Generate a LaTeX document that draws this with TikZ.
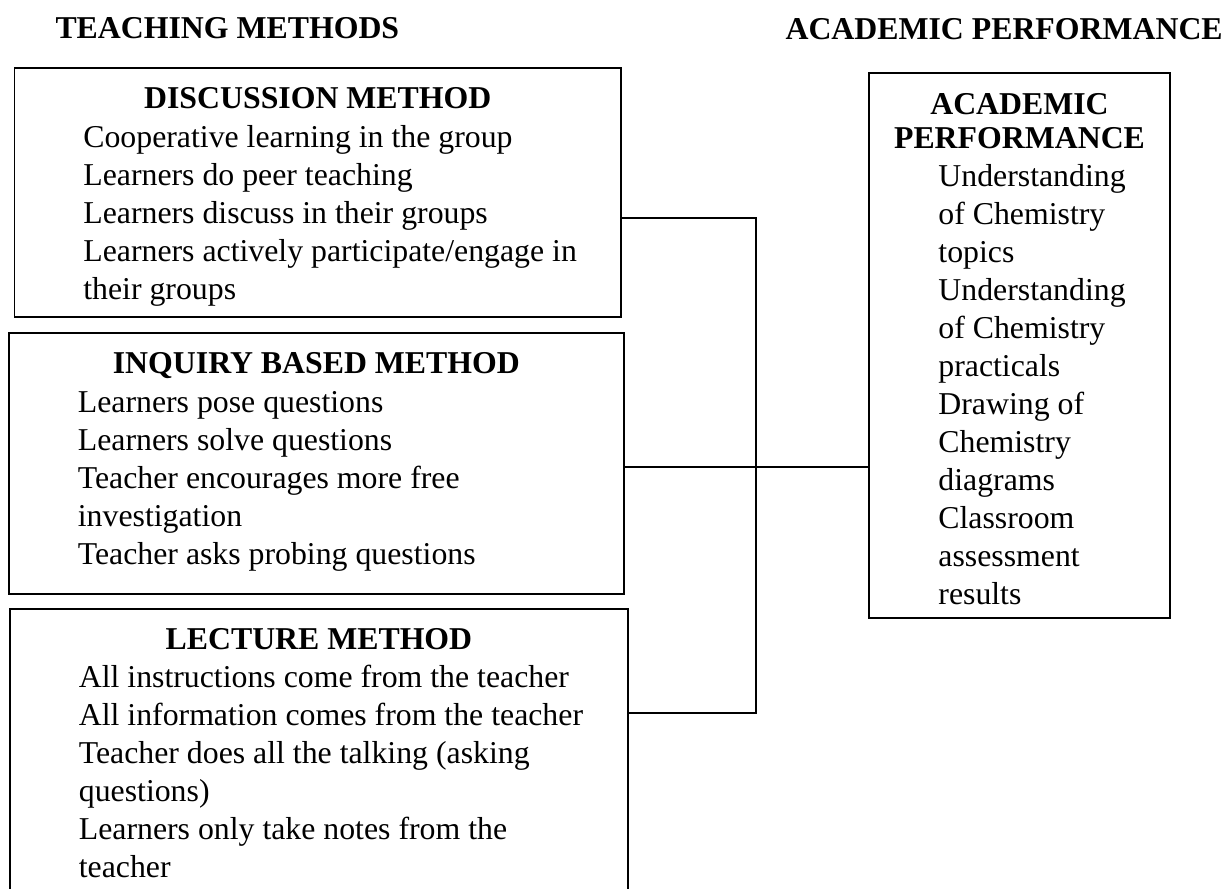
\documentclass[tikz,border=0pt]{standalone}
\usepackage{fontspec}
\setmainfont{Liberation Serif}
\usepackage{tikz}
\tikzstyle{box}  = [draw, rectangle, line width=0.75pt, inner sep=0pt, anchor=north west, font=\fontsize{12pt}{14.34pt}\selectfont]
\tikzstyle{head} = [anchor=base west, inner sep=0pt, font=\fontsize{12pt}{14.34pt}\selectfont\bfseries]
\tikzstyle{wire} = [draw, line width=1pt]

\begin{document}
\begin{tikzpicture}[x=0.3774pt, y=-0.3774pt]
\useasboundingbox (0,0) rectangle (1227,888);

% headings
\node [head] (methods) at (55,38)  {TEACHING METHODS};
\node [head] (results) at (785,39) {ACADEMIC PERFORMANCE};

% teaching methods
\node [box] (disc) at (13.5,67) {
	\begin{minipage}[t][94pt][t]{228.9pt}
		\centering\rule{0pt}{15.1pt}\textbf{DISCUSSION METHOD}\par\vspace{0.7pt}
		\raggedright\leftskip=26pt
		Cooperative learning in the group\\
		Learners do peer teaching\\
		Learners discuss in their groups\\
		Learners actively participate/engage in\\
		their groups
	\end{minipage}
};
\node [box] (inq) at (8,332) {
	\begin{minipage}[t][98.5pt][t]{232pt}
		\centering\rule{0pt}{15.1pt}\textbf{INQUIRY BASED METHOD}\par\vspace{0.7pt}
		\raggedright\leftskip=26pt
		Learners pose questions\\
		Learners solve questions\\
		Teacher encourages more free\\
		investigation\\
		Teacher asks probing questions
	\end{minipage}
};
\node [box] (lect) at (9,608) {
	\begin{minipage}[t][110pt][t]{233.2pt}
		\centering\rule{0pt}{15.1pt}\textbf{LECTURE METHOD}\par\vspace{0.3pt}
		\raggedright\leftskip=26pt
		All instructions come from the teacher\\
		All information comes from the teacher\\
		Teacher does all the talking (asking\\
		questions)\\
		Learners only take notes from the\\
		teacher
	\end{minipage}
};

% academic performance
\node [box] (perf) at (868,71.7) {
	\begin{minipage}[t][205.8pt][t]{113.6pt}
		\centering\rule{0pt}{15.6pt}\textbf{ACADEMIC}\\[-1.5pt]
		\textbf{PERFORMANCE}\par
		\raggedright\leftskip=26.2pt
		Understanding\\
		of Chemistry\\
		topics\\
		Understanding\\
		of Chemistry\\
		practicals\\
		Drawing of\\
		Chemistry\\
		diagrams\\
		Classroom\\
		assessment\\
		results
	\end{minipage}
};

% joints
\coordinate (j1) at (756,218);
\coordinate (j2) at (756,467);
\coordinate (j3) at (756,713);

% links
\path [wire] (disc.east |- j1) -- (j1) -- (j3) -- (lect.east |- j3);
\path [wire] (inq.east |- j2) -- (perf.west |- j2);

\end{tikzpicture}
\end{document}
